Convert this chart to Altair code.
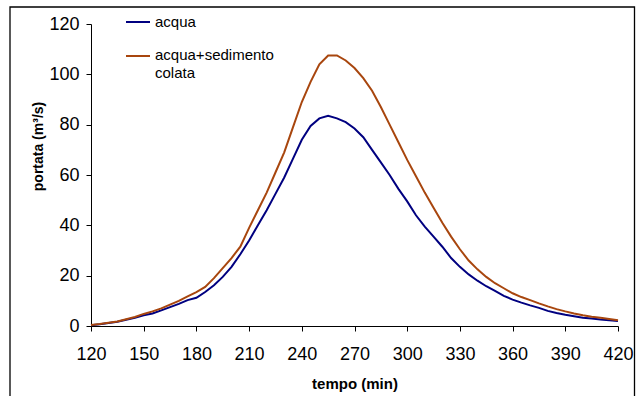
import altair as alt
import pandas as pd

tempo = list(range(120, 421, 5))
acqua = [0.3, 0.7, 1.2, 1.7, 2.5, 3.3, 4.3, 5.0, 6.2, 7.5, 8.8, 10.3, 11.2, 13.5, 16.2, 19.5,
         23.5, 28.5, 34.0, 40.0, 46.0, 52.5, 59.0, 66.5, 74.0, 79.5, 82.5, 83.5, 82.5, 81.0,
         78.5, 75.0, 70.0, 65.0, 60.0, 54.5, 49.5, 44.0, 39.5, 35.5, 31.5, 27.0, 23.5, 20.5,
         18.0, 15.8, 14.0, 12.0, 10.5, 9.3, 8.2, 7.2, 6.0, 5.2, 4.5, 3.9, 3.3, 3.0, 2.6, 2.3, 2.0]
sedimento = [0.4, 0.8, 1.3, 1.8, 2.7, 3.6, 4.8, 5.8, 7.0, 8.5, 10.0, 11.8, 13.5, 15.5, 19.0, 23.0,
             27.0, 31.5, 39.0, 46.0, 53.0, 61.0, 69.0, 79.0, 89.0, 97.0, 104.0, 107.5, 107.5, 105.5,
             102.5, 98.5, 93.5, 87.0, 80.0, 73.0, 66.0, 59.5, 53.0, 47.0, 41.0, 35.5, 30.5, 26.0,
             22.5, 19.5, 17.0, 15.0, 13.0, 11.5, 10.3, 9.0, 7.8, 6.7, 5.8, 5.0, 4.3, 3.7, 3.3, 2.8, 2.3]
series_names = ["acqua", "acqua+sedimento colata"]
series_colors = ["#000080", "#A8460E"]
x_ticks = list(range(120, 421, 30))
y_ticks = list(range(0, 121, 20))

df = pd.DataFrame({"tempo": tempo, series_names[0]: acqua, series_names[1]: sedimento})
long = df.melt("tempo", var_name="serie", value_name="portata")

FONT = "Liberation Sans"

lines = alt.Chart(long).mark_line(strokeWidth=2, clip=False).encode(
    x=alt.X("tempo:Q", scale=alt.Scale(domain=[120, 420], nice=False, zero=False),
            axis=alt.Axis(values=x_ticks, title="tempo (min)", grid=False,
                          labelFontSize=18, labelFont=FONT, labelColor="black",
                          labelFlush=False, labelOverlap=False,
                          labelPadding=14, tickSize=5, tickColor="black", domainColor="black",
                          titleFont=FONT, titleFontSize=15, titleFontWeight="bold",
                          titleColor="black", titleBaseline="alphabetic", titleY=62)),
    y=alt.Y("portata:Q", scale=alt.Scale(domain=[0, 120], nice=False),
            axis=alt.Axis(values=y_ticks, title="portata (m³/s)", grid=False,
                          labelFontSize=18, labelFont=FONT, labelColor="black",
                          labelFlush=False, labelOverlap=False,
                          labelPadding=7, tickSize=5, tickColor="black", domainColor="black",
                          titleFont=FONT, titleFontSize=14, titleFontWeight="bold",
                          titleColor="black", titleBaseline="alphabetic", titleAngle=270,
                          titleX=-49, titleY=122)),
    color=alt.Color("serie:N", scale=alt.Scale(domain=series_names, range=series_colors),
                    legend=None),
    detail="serie:N",
)

one = alt.Data(values=[{}])

frame = alt.Chart(one).mark_rect(fill=None, stroke="black", strokeWidth=1.3, clip=False).encode(
    x=alt.value(-81), x2=alt.value(543.5), y=alt.value(-17), y2=alt.value(400))

leg1 = alt.Chart(one).mark_rule(strokeWidth=2, color=series_colors[0]).encode(
    x=alt.value(35), x2=alt.value(59), y=alt.value(-2))
leg2 = alt.Chart(one).mark_rule(strokeWidth=2, color=series_colors[1]).encode(
    x=alt.value(35), x2=alt.value(59), y=alt.value(32))
txt1 = alt.Chart(one).mark_text(align="left", baseline="middle", font=FONT, fontSize=15,
                                color="black").encode(
    x=alt.value(64), y=alt.value(-2), text=alt.value("acqua"))
txt2 = alt.Chart(one).mark_text(align="left", baseline="top", font=FONT, fontSize=15,
                                color="black", lineHeight=18).encode(
    x=alt.value(64), y=alt.value(24), text=alt.value(["acqua+sedimento", "colata"]))

chart = alt.layer(lines, frame, leg1, leg2, txt1, txt2).properties(
    width=527, height=302,
    autosize=alt.AutoSizeParams(type="none"),
    padding={"left": 91, "top": 24, "right": 20, "bottom": 70},
    background="white",
).configure_view(stroke=None)

chart.save("out.html", embed_options={"renderer": "svg", "actions": False})
